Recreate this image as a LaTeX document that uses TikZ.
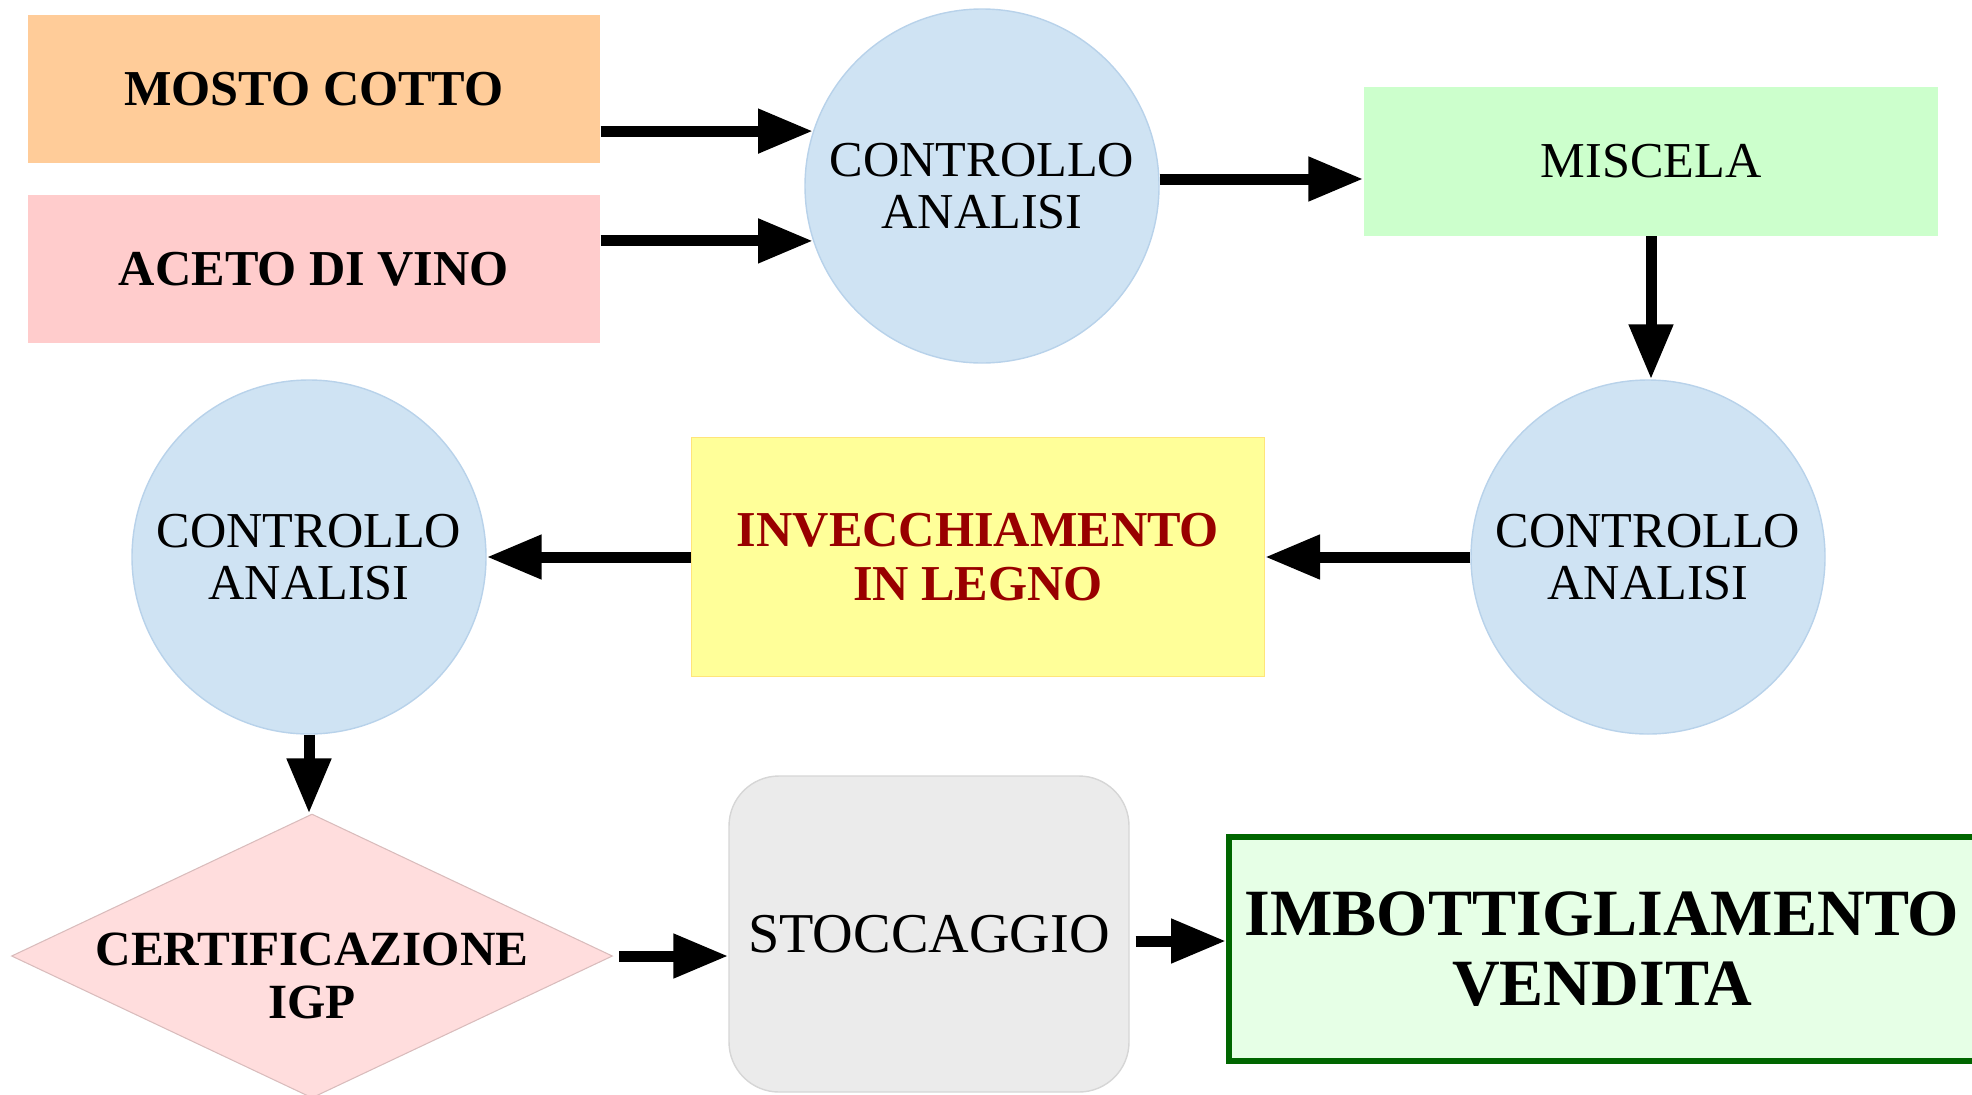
\documentclass[tikz,border=0pt]{standalone}
\usepackage{fontspec}
\setmainfont{Liberation Serif}
\usepackage{tikz}
\usetikzlibrary{arrows.meta,positioning,shapes.geometric,calc}
\usepackage{color}
\definecolor{mostoc}{HTML}{FFCC99}
\definecolor{acetoc}{HTML}{FFCCCC}
\definecolor{ctrlc}{HTML}{CFE3F3}
\definecolor{ctrld}{HTML}{B8D2EA}
\definecolor{miscelac}{HTML}{CCFFCC}
\definecolor{legnoc}{HTML}{FFFF99}
\definecolor{legnotxt}{HTML}{990000}
\definecolor{certc}{HTML}{FFDDDD}
\definecolor{stocc}{HTML}{EBEBEB}
\definecolor{stocd}{HTML}{D6D6D6}
\definecolor{finc}{HTML}{E6FFE6}
\definecolor{find}{HTML}{006600}

\begin{document}
\begin{tikzpicture}[
	box/.style={rectangle, inner sep=0pt, align=center, font=\fontsize{14.3}{15.5}\selectfont},
	ctrl/.style={circle, fill=ctrlc, draw=ctrld, line width=0.4pt, minimum size=3.54cm, inner sep=0pt, align=center, font=\fontsize{14.3}{15}\selectfont},
	arr/.style={line width=0.11cm, -{Triangle[length=0.55cm,width=0.42cm]}}
	]
	\useasboundingbox (0,0) rectangle (19.72,-10.94);
	\node[box, fill=mostoc, minimum width=5.72cm, minimum height=1.48cm] (mosto) at (3.14,-0.89) {\bfseries MOSTO COTTO};
	\node[box, fill=acetoc, minimum width=5.72cm, minimum height=1.48cm] (aceto) at (3.14,-2.69) {\bfseries ACETO DI VINO};
	\node[ctrl] (ctrl1) at (9.82,-1.86) {CONTROLLO\\ANALISI};
	\node[box, fill=miscelac, minimum width=5.74cm, minimum height=1.49cm] (miscela) at (16.51,-1.61) {MISCELA};
	\node[ctrl] (ctrl2) at (16.48,-5.57) {CONTROLLO\\ANALISI};
	\node[box, fill=legnoc, draw=legnoc!80!orange, line width=0.3pt, text=legnotxt, minimum width=5.73cm, minimum height=2.39cm] (legno) at (9.78,-5.57) {\bfseries INVECCHIAMENTO\\\bfseries IN LEGNO};
	\node[ctrl] (ctrl3) at (3.09,-5.57) {CONTROLLO\\ANALISI};
	\node[diamond, fill=certc, draw=certc!85!black, line width=0.3pt, minimum width=6.01cm, minimum height=2.84cm, inner sep=0pt] (cert) at (3.12,-9.56) {};
	\node[box, font=\fontsize{14}{15}\selectfont] (certtxt) at ([yshift=-0.2cm]cert.center) {\bfseries CERTIFICAZIONE\\\bfseries IGP};
	\node[box, fill=stocc, draw=stocd, line width=0.4pt, rounded corners=0.5cm, minimum width=4.0cm, minimum height=3.16cm, font=\fontsize{16}{17}\selectfont] (stoc) at (9.29,-9.34) {STOCCAGGIO};
	\node[box, fill=finc, draw=find, line width=0.06cm, minimum width=7.46cm, minimum height=2.24cm, font=\fontsize{18.8}{20}\selectfont] (fin) at (16.02,-9.49) {\bfseries IMBOTTIGLIAMENTO\\\bfseries VENDITA};
	\draw[arr] (mosto.east |- ctrl1.162) -- (ctrl1.162);
	\draw[arr] (aceto.east |- ctrl1.198) -- (ctrl1.198);
	\draw[arr] ([yshift=0.07cm]ctrl1.east) -- ([yshift=0.07cm]ctrl1.east -| miscela.west);
	\draw[arr] (miscela.south) -- (miscela.south |- ctrl2.north);
	\draw[arr] (ctrl2.west) -- (legno.east);
	\draw[arr] (legno.west) -- (ctrl3.east);
	\draw[arr] (ctrl3.south) -- (ctrl3.south |- cert.north);
	\draw[arr] ([xshift=0.06cm]cert.east) -- (cert.east -| stoc.west);
	\draw[arr] ([xshift=0.06cm,yshift=-0.07cm]stoc.east) -- ([yshift=-0.07cm]stoc.east -| fin.west);
\end{tikzpicture}
\end{document}
